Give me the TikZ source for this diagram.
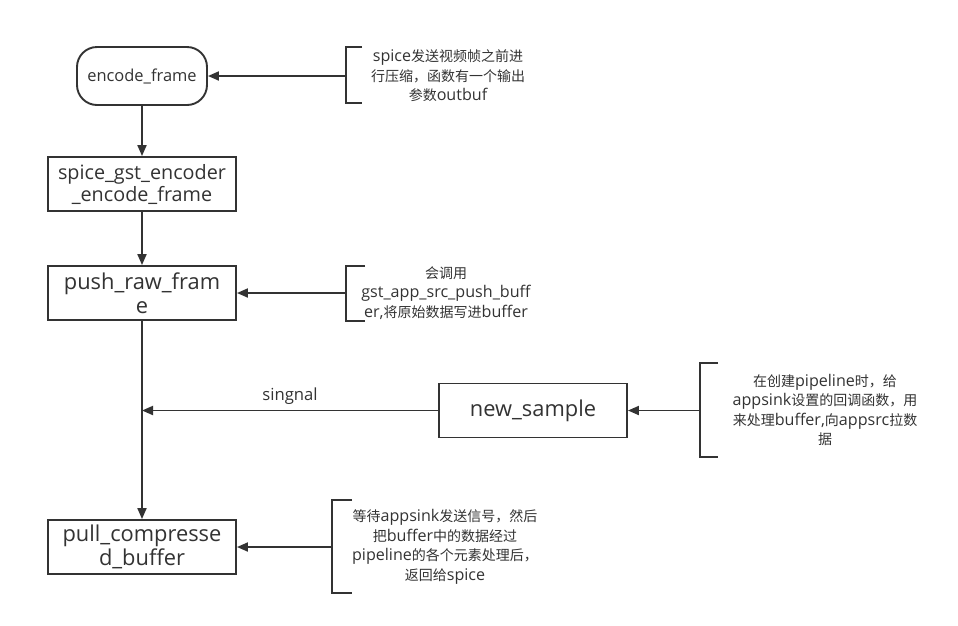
\documentclass[tikz,border=0pt]{standalone}
\usepackage{fontspec}
\setmainfont{Open Sans}[Scale=1.15]
\newfontfamily\cjk{Noto Sans CJK SC}
\newcommand{\zh}[1]{{\cjk #1}}
\usetikzlibrary{arrows.meta}
\definecolor{ink}{HTML}{333333}
\begin{document}
\begin{tikzpicture}[x=1pt,y=-1pt,
  every node/.style={text=ink, inner sep=0pt},
  box/.style={draw=ink, line width=1.9pt, minimum width=188pt, minimum height=54pt, align=center, font=\fontsize{19}{24}\selectfont},
  rbox/.style={draw=ink, line width=1.9pt, rounded corners=20pt, minimum width=130pt, minimum height=58pt, font=\fontsize{14.3}{18}\selectfont},
  note/.style={align=center, font=\fontsize{14}{19.5}\selectfont},
  conn/.style={draw=ink, line width=1.9pt, -{Triangle[length=11pt,width=9pt]}},
  brk/.style={draw=ink, line width=1.9pt}]
\useasboundingbox (0,0) rectangle (958,625);
\fill[white] (0,0) rectangle (958,625);

\node[rbox] (ef) at (142,76) {encode\_frame};
\node[box, font=\fontsize{17.2}{22}\selectfont] (sg) at (142,184) {spice\_gst\_encoder\\\_encode\_frame};
\node[box] (pr) at (142,293) {push\_raw\_fram\\e};
\node[box] (ns) at (533,410.5) {new\_sample};
\node[box] (pc) at (142,547) {pull\_compresse\\d\_buffer};

\draw[conn] (ef) -- (sg);
\draw[conn] (sg) -- (pr);
\draw[conn] (pr) -- (pc);
\coordinate (j) at (142,410.5);
\draw[conn] (ns.west) -- (j) node[midway, above=5pt, font=\fontsize{14.5}{16}\selectfont] (sl) {singnal};

% note 1
\node[note] (n1) at (448,76) {spice\zh{发送视频帧之前进}\\\zh{行压缩，函数有一个输出}\\\zh{参数}outbuf};
\coordinate (b1) at (346,76);
\draw[brk] (362,47) -- (346,47) -- (346,103) -- (362,103);
\draw[conn] (b1) -- (ef.east);

% note 2
\node[note] (n2) at (446,293) {\zh{会调用}\\gst\_app\_src\_push\_buff\\er,\zh{将原始数据写进}buffer};
\coordinate (b2) at (346,293);
\draw[brk] (365,266) -- (346,266) -- (346,321) -- (365,321);
\draw[conn] (b2) -- (pr.east);

% note 3
\node[note] (n3) at (825,410) {\zh{在创建}pipeline\zh{时，给}\\appsink\zh{设置的回调函数，用}\\\zh{来处理}buffer,\zh{向}appsrc\zh{拉数}\\\zh{据}};
\coordinate (b3) at (700,410.5);
\draw[brk] (718,363) -- (700,363) -- (700,457) -- (718,457);
\draw[conn] (b3) -- (ns.east);

% note 4
\node[note] (n4) at (445,547) {\zh{等待}appsink\zh{发送信号，然后}\\\zh{把}buffer\zh{中的数据经过}\\pipeline\zh{的各个元素处理后，}\\\zh{返回给}spice};
\coordinate (b4) at (332,547);
\draw[brk] (352,500) -- (332,500) -- (332,593) -- (352,593);
\draw[conn] (b4) -- (pc.east);
\end{tikzpicture}
\end{document}
